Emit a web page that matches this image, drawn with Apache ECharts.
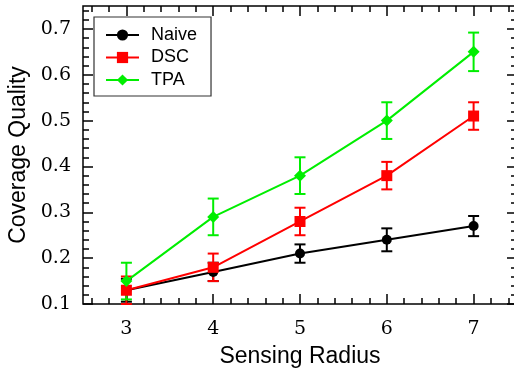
<!DOCTYPE html>
<html><head><meta charset="utf-8">
<script src="https://cdn.jsdelivr.net/npm/echarts@6/dist/echarts.min.js"></script>
<style>html,body{margin:0;padding:0;background:#fff}#c{width:514px;height:368px}</style>
</head><body><div id="c"></div>
<script>
const radius = [3, 4, 5, 6, 7];
const naive = [0.13, 0.17, 0.21, 0.24, 0.27];
const naiveErr = [0.025, 0.02, 0.02, 0.025, 0.022];
const dsc = [0.13, 0.18, 0.28, 0.38, 0.51];
const dscErr = [0.03, 0.03, 0.03, 0.03, 0.03];
const tpa = [0.15, 0.29, 0.38, 0.50, 0.65];
const tpaErr = [0.04, 0.04, 0.04, 0.04, 0.042];
const xMajor = [3, 4, 5, 6, 7];
const xMinor = [2.6, 2.8, 3.2, 3.4, 3.6, 3.8, 4.2, 4.4, 4.6, 4.8, 5.2, 5.4, 5.6, 5.8, 6.2, 6.4, 6.6, 6.8, 7.2, 7.4];
const yMajor = [0.1, 0.2, 0.3, 0.4, 0.5, 0.6, 0.7];
const yMinor = [0.12, 0.14, 0.16, 0.18, 0.22, 0.24, 0.26, 0.28, 0.32, 0.34, 0.36, 0.38, 0.42, 0.44, 0.46, 0.48, 0.52, 0.54, 0.56, 0.58, 0.62, 0.64, 0.66, 0.68, 0.72, 0.74];

const chart = echarts.init(document.getElementById('c'));
const serif = '"DejaVu Serif","Liberation Serif",serif';
const sans = '"Liberation Sans",Arial,sans-serif';

function xAx(pos, vals, len, opts) {
  return Object.assign({
    type: 'value', position: pos, min: 2.5, max: 7.5, gridIndex: 0,
    axisLine: {show: false},
    axisTick: {show: true, inside: true, length: len, customValues: vals, lineStyle: {color: '#000', width: 1.5}},
    axisLabel: {show: false},
    splitLine: {show: false}
  }, opts || {});
}
function yAx(pos, vals, len, opts) {
  return Object.assign({
    type: 'value', position: pos, min: 0.1, max: 0.75, gridIndex: 0,
    axisLine: {show: false},
    axisTick: {show: true, inside: true, length: len, customValues: vals, lineStyle: {color: '#000', width: 1.5}},
    axisLabel: {show: false},
    splitLine: {show: false}
  }, opts || {});
}

function errSeries(name, vals, errs, color) {
  return {
    type: 'custom', name: name + ' err', xAxisIndex: 0, yAxisIndex: 0, silent: true,
    data: radius.map((r, i) => [r, vals[i] - errs[i], vals[i] + errs[i]]),
    renderItem: function (params, api) {
      const lo = api.coord([api.value(0), api.value(1)]);
      const hi = api.coord([api.value(0), api.value(2)]);
      const w = 5.5;
      const st = {stroke: color, lineWidth: 2, fill: null};
      return {type: 'group', children: [
        {type: 'line', shape: {x1: lo[0], y1: lo[1], x2: hi[0], y2: hi[1]}, style: st},
        {type: 'line', shape: {x1: lo[0] - w, y1: lo[1], x2: lo[0] + w, y2: lo[1]}, style: st},
        {type: 'line', shape: {x1: hi[0] - w, y1: hi[1], x2: hi[0] + w, y2: hi[1]}, style: st}
      ]};
    },
    z: 2
  };
}
function lineSeries(name, vals, color, symbol, size) {
  return {
    type: 'line', name: name, xAxisIndex: 0, yAxisIndex: 0,
    data: radius.map((r, i) => [r, vals[i]]),
    symbol: symbol, symbolSize: size, showAllSymbol: true,
    itemStyle: {color: color, borderWidth: 0},
    lineStyle: {color: color, width: 2},
    emphasis: {disabled: true}, animation: false, z: 3
  };
}

chart.setOption({
  animation: false,
  backgroundColor: '#fff',
  grid: {left: 83, top: 6, right: -3, bottom: 64, outerBoundsMode: 'none', containLabel: false,
    show: true, borderColor: '#000', borderWidth: 1.5, backgroundColor: 'transparent'},
  legend: {
    left: 94, top: 17, orient: 'vertical',
    data: ['Naive', 'DSC', 'TPA'],
    itemWidth: 33, itemHeight: 14, itemGap: 4.5,
    padding: [9, 14, 7, 11],
    borderColor: '#333', borderWidth: 1.2, backgroundColor: '#fff',
    formatter: n => '{s| }{t|' + n + '}',
    textStyle: {fontFamily: sans, fontSize: 18, color: '#000', lineHeight: 18,
      rich: {
        s: {width: 7, fontSize: 18, lineHeight: 18},
        t: {fontFamily: sans, fontSize: 18, color: '#000', lineHeight: 18}
      }}
  },
  xAxis: [
    xAx('bottom', xMajor, 10, {
      axisLabel: {show: true, customValues: xMajor, fontFamily: serif, fontSize: 19, color: '#000', margin: 16},
      name: 'Sensing Radius', nameLocation: 'middle', nameGap: 41,
      nameTextStyle: {fontFamily: sans, fontSize: 23, color: '#000'}
    }),
    xAx('bottom', xMinor, 6),
    xAx('top', xMajor, 10),
    xAx('top', xMinor, 6)
  ],
  yAxis: [
    yAx('left', yMajor, 10, {
      axisLabel: {show: true, customValues: yMajor, fontFamily: serif, fontSize: 19, color: '#000', margin: 12,
        formatter: v => v.toFixed(1)},
      name: 'Coverage Quality', nameLocation: 'middle', nameGap: 53,
      nameTextStyle: {fontFamily: sans, fontSize: 23, color: '#000'}
    }),
    yAx('left', yMinor, 6),
    yAx('right', yMajor, 10),
    yAx('right', yMinor, 6)
  ],
  series: [
    errSeries('Naive', naive, naiveErr, '#000000'),
    errSeries('DSC', dsc, dscErr, '#ff0000'),
    errSeries('TPA', tpa, tpaErr, '#00ee00'),
    lineSeries('Naive', naive, '#000000', 'circle', 10),
    lineSeries('DSC', dsc, '#ff0000', 'rect', 11),
    lineSeries('TPA', tpa, '#00ee00', 'diamond', 12)
  ]
});
</script></body></html>
